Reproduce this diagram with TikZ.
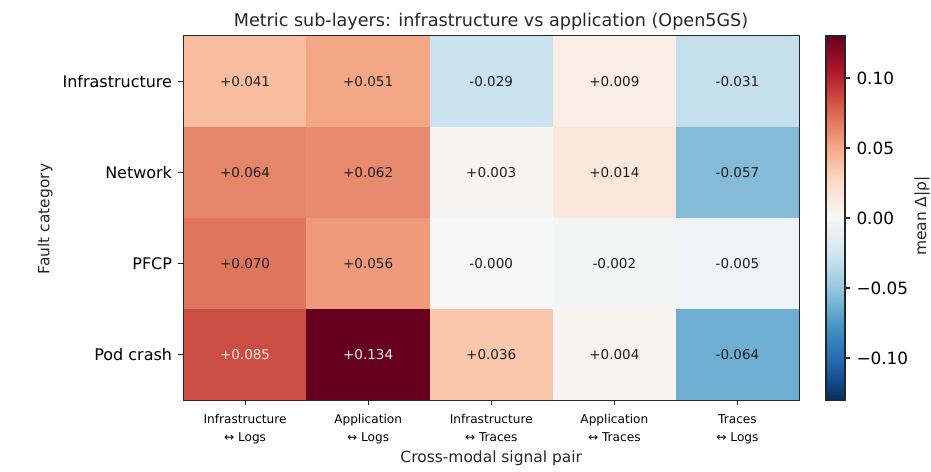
\documentclass[tikz,border=0pt]{standalone}
\usepackage{fontspec}
\setmainfont{DejaVu Sans}
\usetikzlibrary{positioning}

% RdBu_r stops
\definecolor{rb0}{HTML}{053061}
\definecolor{rb1}{HTML}{2166AC}
\definecolor{rb2}{HTML}{4393C3}
\definecolor{rb3}{HTML}{92C5DE}
\definecolor{rb4}{HTML}{D1E5F0}
\definecolor{rb5}{HTML}{F7F7F7}
\definecolor{rb6}{HTML}{FDDBC7}
\definecolor{rb7}{HTML}{F4A582}
\definecolor{rb8}{HTML}{D6604D}
\definecolor{rb9}{HTML}{B2182B}
\definecolor{rb10}{HTML}{67001F}

% value -> colour heatc (range -0.13 .. 0.13)
\newcommand\setheatcolor[1]{%
  \pgfmathsetmacro\hpos{min(max(5+(#1)/0.026,0),9.999)}%
  \pgfmathtruncatemacro\hlo{floor(\hpos)}%
  \pgfmathtruncatemacro\hhi{\hlo+1}%
  \pgfmathsetmacro\hfr{(\hpos-\hlo)*100}%
  \colorlet{heatc}{rb\hhi!\hfr!rb\hlo}}

\tikzset{
  cell/.style={minimum width=2.462cm, minimum height=1.82cm, inner sep=0pt,
    line width=0.2pt, font=\fontsize{7.7}{9}\selectfont},
  ylab/.style={font=\fontsize{9.1}{11}\selectfont, inner sep=0pt},
  xlab/.style={font=\fontsize{6.9}{10.4}\selectfont, align=center, inner sep=0pt},
  axlab/.style={font=\fontsize{8.8}{11}\selectfont, inner sep=0pt, text=black!85},
  cblab/.style={font=\fontsize{9.6}{11}\selectfont, inner sep=0pt},
  tick/.style={line width=0.6pt, black!85}
}

\begin{document}
\begin{tikzpicture}[x=0.02cm, y=0.02cm]
  \useasboundingbox (0,0) rectangle (931,472);

  % heatmap cells
  \foreach \r/\c/\v/\t in {
    1/1/0.041/+0.041, 1/2/0.051/+0.051, 1/3/-0.029/-0.029, 1/4/0.009/+0.009, 1/5/-0.031/-0.031,
    2/1/0.064/+0.064, 2/2/0.062/+0.062, 2/3/0.003/+0.003, 2/4/0.014/+0.014, 2/5/-0.057/-0.057,
    3/1/0.070/+0.070, 3/2/0.056/+0.056, 3/3/-0.000/-0.000, 3/4/-0.002/-0.002, 3/5/-0.005/-0.005,
    4/1/0.085/+0.085, 4/2/0.134/+0.134, 4/3/0.036/+0.036, 4/4/0.004/+0.004, 4/5/-0.064/-0.064}{
    \setheatcolor{\v}
    \pgfmathtruncatemacro\dark{abs(\v)>0.08}
    \ifnum\dark=1 \def\tc{white!92!black}\else\def\tc{black!88}\fi
    \node[cell, fill=heatc, draw=heatc, text=\tc] (m-\r-\c)
      at ({183.5+123.1*(\c-0.5)},{436-91*(\r-0.5)}) {\t};
  }
  \draw[line width=0.6pt, black!85] (m-4-1.south west) rectangle (m-1-5.north east);

  % y axis
  \foreach \lab [count=\r] in {Infrastructure,Network,PFCP,Pod crash}{
    \draw[tick] (m-\r-1.west) -- ++(-5,0) coordinate (yt-\r);
    \node[ylab, left=3.4pt of yt-\r] (yl-\r) {\lab};
  }
  \node[axlab, rotate=90] (yname) at (45,253) {Fault category};

  % x axis
  \foreach \lab [count=\c] in {Infrastructure\\↔ Logs, Application\\↔ Logs,
      Infrastructure\\↔ Traces, Application\\↔ Traces, Traces\\↔ Logs}{
    \draw[tick] (m-4-\c.south) -- ++(0,-5) coordinate (xt-\c);
    \node[xlab, below=5pt of xt-\c] (xl-\c) {\lab};
  }
  \node[axlab, below=4.5pt of xl-3] (xname) {Cross-modal signal pair};

  \node[font=\fontsize{10}{12}\selectfont, anchor=base, text=black!85] (title)
    at (491,445) {Metric sub-layers: infrastructure vs application (Open5GS)};

  % colour bar
  \foreach \i [evaluate=\i as \j using int(\i+1)] in {0,...,9}
    \shade[bottom color=rb\i, top color=rb\j]
      (826,{72+36.4*\i}) rectangle (845,{72+36.4*(\i+1)+(\i<9 ? 0.6 : 0)});
  \draw[line width=0.6pt, black!85] (826,72) rectangle (845,436);
  \foreach \v/\lab in {-0.10/−0.10, -0.05/−0.05, 0.00/0.00, 0.05/0.05, 0.10/0.10}{
    \draw[tick] (845,{254+1400*\v}) -- ++(5,0) coordinate (ct);
    \node[cblab, right=3.5pt of ct] {\lab};
  }
  \node[axlab, rotate=90, anchor=base] (cbname) at (926,256) {mean Δ|ρ|};
\end{tikzpicture}
\end{document}
